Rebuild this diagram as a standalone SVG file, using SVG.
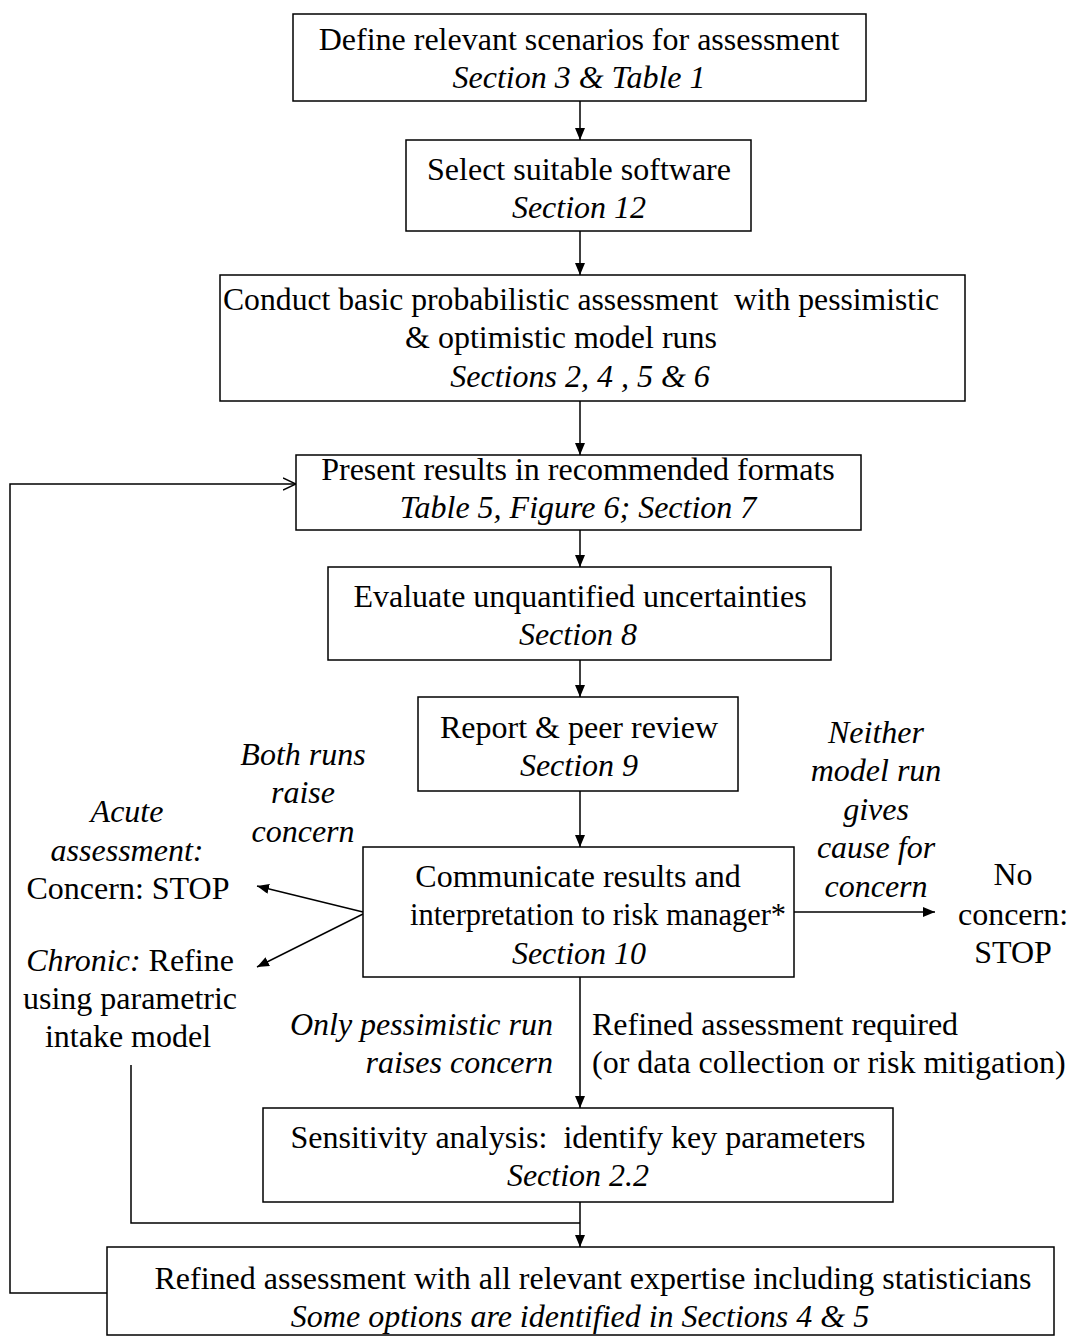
<svg xmlns="http://www.w3.org/2000/svg" width="1071" height="1337" viewBox="0 0 1071 1337">
<style>
.box{fill:#fff;stroke:#000;stroke-width:1.5}
text{font-family:"Liberation Serif","Times New Roman",serif;font-size:32px;fill:#000}
.c{text-anchor:middle}
.e{text-anchor:end}
.i{font-style:italic}
.ln{fill:none;stroke:#000;stroke-width:1.5}
</style>
<defs>
<marker id="ah" viewBox="0 0 12 10" refX="12" refY="5" markerWidth="12" markerHeight="10" markerUnits="userSpaceOnUse" orient="auto">
<path d="M0,0 L12,5 L0,10 Z" fill="#000"/>
</marker>
<marker id="oa" viewBox="0 0 14 14" refX="13" refY="7" markerWidth="14" markerHeight="14" markerUnits="userSpaceOnUse" orient="auto">
<path d="M0,1 L13,7 L0,13" fill="none" stroke="#000" stroke-width="1.5"/>
</marker>
</defs>
<rect width="1071" height="1337" fill="#fff"/>
<g id="connectors">
<line class="ln" x1="580" y1="101" x2="580" y2="140" marker-end="url(#ah)"/>
<line class="ln" x1="580" y1="231" x2="580" y2="275" marker-end="url(#ah)"/>
<line class="ln" x1="580" y1="401" x2="580" y2="455" marker-end="url(#ah)"/>
<line class="ln" x1="580" y1="530" x2="580" y2="567" marker-end="url(#ah)"/>
<line class="ln" x1="580" y1="660" x2="580" y2="697" marker-end="url(#ah)"/>
<line class="ln" x1="580" y1="791" x2="580" y2="847" marker-end="url(#ah)"/>
<line class="ln" x1="580" y1="977" x2="580" y2="1108" marker-end="url(#ah)"/>
<line class="ln" x1="580" y1="1202" x2="580" y2="1247" marker-end="url(#ah)"/>
<polyline class="ln" points="131,1065 131,1223 580,1223"/>
<polyline class="ln" points="107,1293 10,1293 10,484 296,484" marker-end="url(#oa)"/>
<line class="ln" x1="363" y1="912" x2="257" y2="886" marker-end="url(#ah)"/>
<line class="ln" x1="363" y1="914" x2="257" y2="967" marker-end="url(#ah)"/>
<line class="ln" x1="794" y1="912" x2="935" y2="912" marker-end="url(#ah)"/>
</g>
<g id="n1">
<rect class="box" x="293" y="14" width="573" height="87"/>
<text class="c" x="579" y="50">Define relevant scenarios for assessment</text>
<text class="c i" x="579" y="88">Section 3 &amp; Table 1</text>
</g>
<g id="n2">
<rect class="box" x="406" y="140" width="345" height="91"/>
<text class="c" x="579" y="180">Select suitable software</text>
<text class="c i" x="579" y="218">Section 12</text>
</g>
<g id="n3">
<rect class="box" x="220" y="275" width="745" height="126"/>
<text class="c" x="581" y="310" xml:space="preserve" textLength="716" lengthAdjust="spacingAndGlyphs">Conduct basic probabilistic assessment  with pessimistic</text>
<text class="c" x="561" y="348">&amp; optimistic model runs</text>
<text class="c i" x="580" y="387">Sections 2, 4 , 5 &amp; 6</text>
</g>
<g id="n4">
<rect class="box" x="296" y="455" width="565" height="75"/>
<text class="c" x="578" y="480">Present results in recommended formats</text>
<text class="c i" x="578" y="518">Table 5, Figure 6; Section 7</text>
</g>
<g id="n5">
<rect class="box" x="328" y="567" width="503" height="93"/>
<text class="c" x="580" y="607">Evaluate unquantified uncertainties</text>
<text class="c i" x="578" y="645">Section 8</text>
</g>
<g id="n6">
<rect class="box" x="418" y="697" width="320" height="94"/>
<text class="c" x="579" y="738">Report &amp; peer review</text>
<text class="c i" x="579" y="776">Section 9</text>
</g>
<g id="n7">
<rect class="box" x="363" y="847" width="431" height="130"/>
<text class="c" x="578" y="887">Communicate results and</text>
<text class="c" x="598" y="925" textLength="376" lengthAdjust="spacingAndGlyphs">interpretation to risk manager*</text>
<text class="c i" x="579" y="964">Section 10</text>
</g>
<g id="n8">
<rect class="box" x="263" y="1108" width="630" height="94"/>
<text class="c" x="578" y="1148" xml:space="preserve">Sensitivity analysis:  identify key parameters</text>
<text class="c i" x="578" y="1186">Section 2.2</text>
</g>
<g id="n9">
<rect class="box" x="107" y="1247" width="947" height="88"/>
<text class="c" x="593" y="1289">Refined assessment with all relevant expertise including statisticians</text>
<text class="c i" x="580" y="1327">Some options are identified in Sections 4 &amp; 5</text>
</g>
<g id="labels">
<text class="c i" x="303" y="765">Both runs</text>
<text class="c i" x="303" y="803">raise</text>
<text class="c i" x="303" y="842">concern</text>
<text class="c i" x="127" y="822">Acute</text>
<text class="c i" x="127" y="861">assessment:</text>
<text class="c" x="128" y="899">Concern: STOP</text>
<text class="c" x="130" y="971"><tspan class="i">Chronic:</tspan> Refine</text>
<text class="c" x="130" y="1009">using parametric</text>
<text class="c" x="128" y="1047">intake model</text>
<text class="c i" x="876" y="743">Neither</text>
<text class="c i" x="876" y="781">model run</text>
<text class="c i" x="876" y="820">gives</text>
<text class="c i" x="876" y="858">cause for</text>
<text class="c i" x="876" y="897">concern</text>
<text class="c" x="1013" y="885">No</text>
<text class="c" x="1013" y="925">concern:</text>
<text class="c" x="1013" y="963">STOP</text>
<text class="e i" x="553" y="1035">Only pessimistic run</text>
<text class="e i" x="553" y="1073">raises concern</text>
<text x="592" y="1035">Refined assessment required</text>
<text x="592" y="1073">(or data collection or risk mitigation)</text>
</g>
</svg>
